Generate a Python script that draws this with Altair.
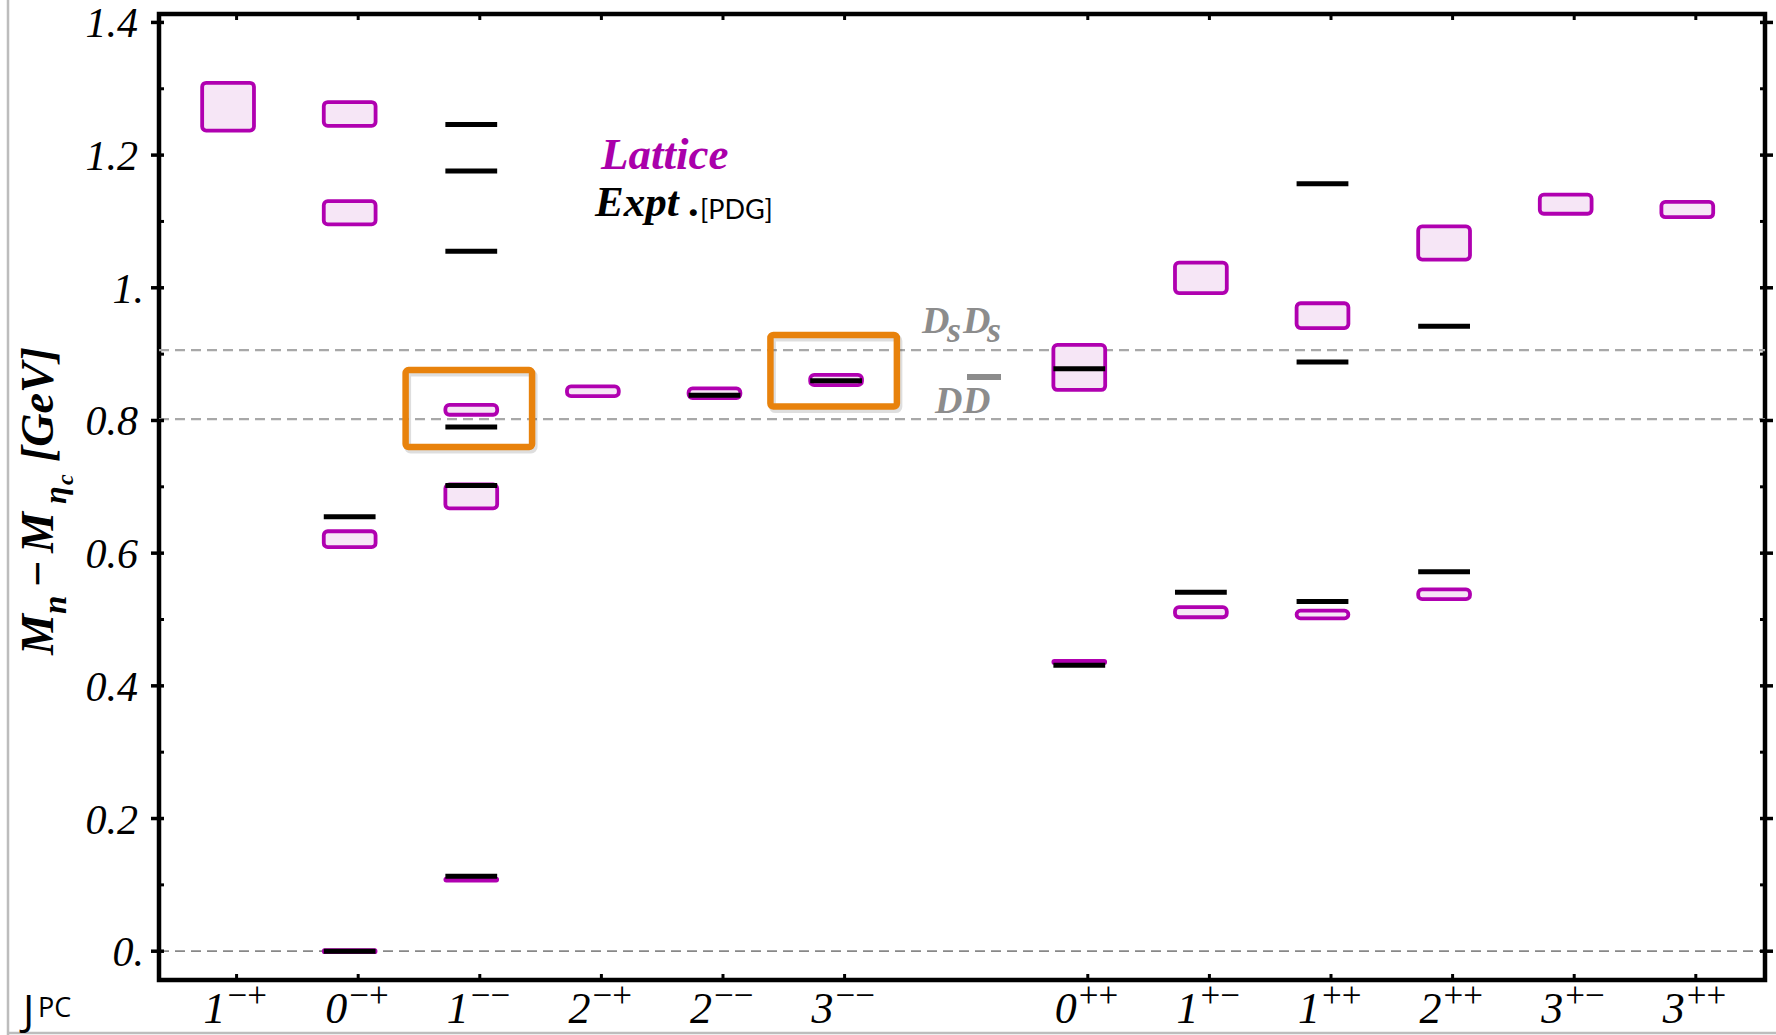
import altair as alt
import pandas as pd

# J^PC channels along the horizontal axis (slot 7 is left empty as a spacer)
spin = ["1", "0", "1", "2", "2", "3", "0", "1", "1", "2", "3", "3"]
pc = ["−+", "−+", "−−", "−+", "−−", "−−", "++", "+−", "++", "++", "+−", "++"]
slot = [1, 2, 3, 4, 5, 6, 8, 9, 10, 11, 12, 13]

# Lattice levels: channel index, M_n - M_eta_c (GeV), half error band (GeV)
lat_channel = [0, 1, 1, 1, 1, 2, 2, 2, 3, 4, 5, 6, 6, 7, 7, 8, 8, 9, 9, 10, 11]
lat_mass = [1.273, 1.262, 1.113, 0.621, 0.000, 0.816, 0.6855, 0.108, 0.844, 0.841, 0.861,
            0.880, 0.436, 1.015, 0.511, 0.958, 0.5075, 1.0675, 0.538, 1.126, 1.118]
lat_err = [0.036, 0.018, 0.0175, 0.012, 0.0015, 0.0074, 0.018, 0.0015, 0.0073, 0.0073, 0.0078,
           0.034, 0.0015, 0.023, 0.0076, 0.0187, 0.0058, 0.025, 0.0073, 0.0144, 0.0116]

# Experimental (PDG) levels: channel index, M_n - M_eta_c (GeV)
expt_channel = [1, 1, 2, 2, 2, 2, 2, 2, 4, 5, 6, 6, 7, 8, 8, 8, 9, 9]
expt_mass = [0.000, 0.655, 0.113, 0.702, 0.790, 1.055, 1.176, 1.246, 0.838, 0.860,
             0.431, 0.878, 0.541, 0.527, 0.888, 1.157, 0.572, 0.942]

# Two-meson thresholds (DsDs, DD) and the eta_c reference level
threshold_mass = [0.906, 0.802]
reference_mass = [0.0]

# Highlighted states: channel index, lower / upper edge of the frame (GeV)
highlight_channel = [2, 5]
highlight_lo = [0.760, 0.821]
highlight_hi = [0.876, 0.929]

# Frame ticks on the energy axis
major_ticks = [0.0, 0.2, 0.4, 0.6, 0.8, 1.0, 1.2, 1.4]
major_labels = ["0.", "0.2", "0.4", "0.6", "0.8", "1.", "1.2", "1.4"]
minor_ticks = [0.1, 0.3, 0.5, 0.7, 0.9, 1.1, 1.3]

# ---------------------------------------------------------------- layout
W, H = 1606, 966
xs = alt.Scale(domain=[0.362, 13.569], nice=False, zero=False)
ys = alt.Scale(domain=[-0.0434, 1.4127], nice=False, zero=False)
BAR_L, BAR_R = -0.283, 0.143      # extent of a level around its channel slot
HL_L, HL_R = -0.61, 0.43          # extent of a highlight frame

MAGENTA = "#B000B0"
PINK = "#F6E6F6"
ORANGE = "#E8820C"
GREY = "#8C8C8C"
SERIF = "Liberation Serif"
SANS = "Lato"


def X(f):
    return alt.X(f, type="quantitative", scale=xs, axis=None)


def Y(f):
    return alt.Y(f, type="quantitative", scale=ys, axis=None)


one = pd.DataFrame({"k": [0]})


def text(t, x, y, size, **kw):
    return alt.Chart(one).mark_text(text=t, fontSize=size, **kw).encode(
        x=alt.value(x), y=alt.value(y))


chan = pd.DataFrame({"s": slot, "spin": spin, "pc": pc})

lat = pd.DataFrame({"s": [slot[c] for c in lat_channel], "m": lat_mass, "e": lat_err})
lat["x0"] = lat["s"] + BAR_L
lat["x1"] = lat["s"] + BAR_R
lat["y0"] = lat["m"] - lat["e"]
lat["y1"] = lat["m"] + lat["e"]

ex = pd.DataFrame({"s": [slot[c] for c in expt_channel], "m": expt_mass})
ex["x0"] = ex["s"] + BAR_L
ex["x1"] = ex["s"] + BAR_R

hl = pd.DataFrame({"s": [slot[c] for c in highlight_channel],
                   "y0": highlight_lo, "y1": highlight_hi})
hl["x0"] = hl["s"] + HL_L
hl["x1"] = hl["s"] + HL_R

maj = pd.DataFrame({"v": major_ticks, "lab": major_labels})
maj_int = maj[maj["lab"].str.endswith(".")]
maj_dec = maj[~maj["lab"].str.endswith(".")]
mnr = pd.DataFrame({"v": minor_ticks})

layers = []

# page border
layers.append(alt.Chart(one).mark_rule(color="#BDBDBD", strokeWidth=2.5).encode(
    x=alt.value(-151), y=alt.value(-14), y2=alt.value(1021)))
layers.append(alt.Chart(one).mark_rule(color="#BDBDBD", strokeWidth=2.5).encode(
    y=alt.value(1019), x=alt.value(-152), x2=alt.value(1620)))

# dashed reference lines
layers.append(alt.Chart(pd.DataFrame({"m": threshold_mass})).mark_rule(
    color="#A8A8A8", strokeWidth=2.2, strokeDash=[10, 6]).encode(
    y=Y("m"), x=alt.value(0), x2=alt.value(W)))
layers.append(alt.Chart(pd.DataFrame({"m": reference_mass})).mark_rule(
    color="#888888", strokeWidth=1.8, strokeDash=[10, 6]).encode(
    y=Y("m"), x=alt.value(0), x2=alt.value(W)))

# lattice error boxes
layers.append(alt.Chart(lat).mark_rect(
    fill=PINK, stroke=MAGENTA, strokeWidth=3.8, cornerRadius=4).encode(
    x=X("x0"), x2=alt.X2("x1"), y=Y("y0"), y2=alt.Y2("y1")))

# experimental levels
layers.append(alt.Chart(ex).mark_rule(color="black", strokeWidth=5).encode(
    x=X("x0"), x2=alt.X2("x1"), y=Y("m")))

# highlight frames (soft shadow + orange frame)
layers.append(alt.Chart(hl).mark_rect(
    fillOpacity=0, stroke="#000000", strokeOpacity=0.13, strokeWidth=7, cornerRadius=3,
    xOffset=2, x2Offset=2, yOffset=3, y2Offset=3).encode(
    x=X("x0"), x2=alt.X2("x1"), y=Y("y0"), y2=alt.Y2("y1")))
layers.append(alt.Chart(hl).mark_rect(
    fillOpacity=0, stroke=ORANGE, strokeWidth=6.5, cornerRadius=3).encode(
    x=X("x0"), x2=alt.X2("x1"), y=Y("y0"), y2=alt.Y2("y1")))

# frame ticks
layers.append(alt.Chart(maj).mark_rule(color="black", strokeWidth=3.5).encode(
    y=Y("v"), x=alt.value(-8), x2=alt.value(5)))
layers.append(alt.Chart(mnr).mark_rule(color="black", strokeWidth=3).encode(
    y=Y("v"), x=alt.value(0), x2=alt.value(5)))
layers.append(alt.Chart(maj).mark_rule(color="black", strokeWidth=3.5).encode(
    y=Y("v"), x=alt.value(W - 5), x2=alt.value(W + 8)))
layers.append(alt.Chart(mnr).mark_rule(color="black", strokeWidth=3).encode(
    y=Y("v"), x=alt.value(W - 5), x2=alt.value(W)))
layers.append(alt.Chart(chan).mark_rule(color="black", strokeWidth=3).encode(
    x=X("s"), y=alt.value(0), y2=alt.value(6)))
layers.append(alt.Chart(chan).mark_rule(color="black", strokeWidth=3).encode(
    x=X("s"), y=alt.value(H - 6), y2=alt.value(H)))

# energy tick labels
layers.append(alt.Chart(maj_dec).mark_text(
    align="right", baseline="alphabetic", dy=15, font=SERIF, fontStyle="italic",
    fontSize=42, color="black").encode(y=Y("v"), x=alt.value(-21), text="lab:N"))
layers.append(alt.Chart(maj_int).mark_text(
    align="right", baseline="alphabetic", dy=15, font=SERIF, fontStyle="italic",
    fontSize=42, color="black").encode(y=Y("v"), x=alt.value(-15), text="lab:N"))

# channel labels: spin with P C superscript
layers.append(alt.Chart(chan).mark_text(
    align="right", baseline="alphabetic", dx=-11, font=SERIF, fontStyle="italic",
    fontSize=44, color="black").encode(x=X("s"), y=alt.value(1009), text="spin:N"))
layers.append(alt.Chart(chan).mark_text(
    align="left", baseline="alphabetic", dx=-9, font=SERIF,
    fontSize=35, color="black").encode(x=X("s"), y=alt.value(993), text="pc:N"))

# J^PC tag
layers.append(text("J", -136, 1011, 42, font="Open Sans", align="left",
                   baseline="alphabetic"))
layers.append(text("PC", -121, 1003, 27, font="Open Sans", align="left",
                   baseline="alphabetic"))

# vertical title  M_n - M_{eta_c} [GeV]
bi = dict(font=SERIF, fontStyle="italic", fontWeight="bold", angle=270,
          align="left", baseline="alphabetic", color="black")
layers.append(text("M", -106, 641, 46, **bi))
layers.append(text("n", -93, 600, 33, **bi))
layers.append(text("−", -106, 574, 46, **bi))
layers.append(text("M", -106, 539, 46, **bi))
layers.append(text("η", -93, 490, 32, **bi))
layers.append(text("c", -86, 471, 24, **bi))
layers.append(text("[GeV]", -106, 448, 46, **bi))

# legend words
bis = dict(font=SERIF, fontStyle="italic", fontWeight="bold", align="left",
           baseline="alphabetic")
layers.append(text("Lattice", 442, 155, 45, color="#AA00AA", **bis))
layers.append(text("Expt .", 436, 202, 43, color="black", **bis))
layers.append(text("[PDG]", 541, 205, 27, font=SANS, align="left",
                   baseline="alphabetic", color="black"))

# threshold names
layers.append(text("D", 763, 319, 38, color=GREY, **bis))
layers.append(text("s", 788, 328, 36, color=GREY, **bis))
layers.append(text("D", 804, 319, 38, color=GREY, **bis))
layers.append(text("s", 828, 328, 36, color=GREY, **bis))
layers.append(text("D", 776, 399, 38, color=GREY, **bis))
layers.append(text("D", 804, 399, 38, color=GREY, **bis))
layers.append(alt.Chart(one).mark_rule(color=GREY, strokeWidth=6).encode(
    x=alt.value(808), x2=alt.value(842), y=alt.value(363)))

chart = alt.layer(*layers).properties(
    width=W, height=H,
    padding={"left": 159, "top": 14, "right": 11, "bottom": 55},
    autosize=alt.AutoSizeParams(type="none"),
    background="white",
).configure_view(stroke="black", strokeWidth=4.5)

chart.save("out.html", embed_options={"renderer": "svg", "actions": False})
